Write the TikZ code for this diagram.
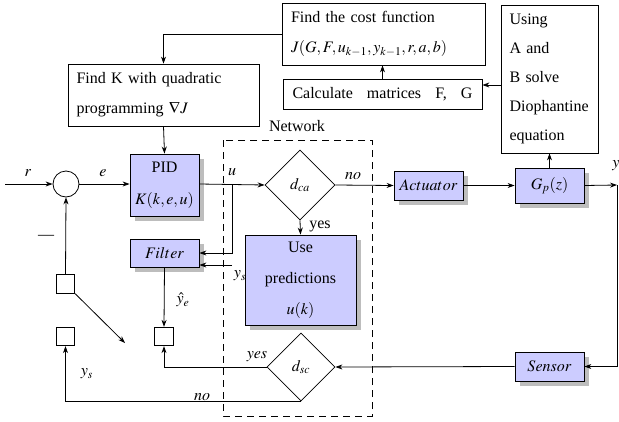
\documentclass[tikz,border=0pt]{standalone}
\usepackage{mathptmx}
\usepackage{fontspec}
\setmainfont{Liberation Serif}
\usetikzlibrary{shapes.geometric,shadows,arrows.meta}
\definecolor{blk}{HTML}{CCCCFF}
\definecolor{shd}{HTML}{BDBDBD}
\begin{document}
\begin{tikzpicture}[x=1pt,y=-1pt,line width=0.8pt,
  font=\fontsize{16}{19}\selectfont,
  arr/.style={-{Stealth[length=7pt,width=5pt]}},
  bluebox/.style={draw,fill=blk,inner sep=0pt,
    drop shadow={shadow xshift=5pt,shadow yshift=-5pt,fill=shd,opacity=1}},
  whitebox/.style={draw,fill=white,inner sep=0pt},
  decis/.style={draw,diamond,inner sep=0pt,minimum width=70pt,minimum height=70pt},
  smallsq/.style={draw,inner sep=0pt,minimum size=18.5pt},
  lbl/.style={inner sep=0pt}]
\useasboundingbox (0,0) rectangle (619,421);

% dashed network region
\draw[dash pattern=on 7pt off 5pt,line width=0.7pt] (223,140) rectangle (372,416);
\node[lbl] (net) at (297,126) {Network};

% top boxes
\node[whitebox,minimum width=203pt,minimum height=62pt,text width=185pt,align=left,
  font=\fontsize{16}{30}\selectfont] (cost) at (383.5,34)
  {\makebox[152pt][s]{Find the cost function}\\$J(G,F,u_{k-1},y_{k-1},r,a,b)$};
\node[whitebox,minimum width=199pt,minimum height=30pt] (calc) at (382.5,94)
  {\makebox[180pt][s]{Calculate matrices F, G}};
\node[whitebox,minimum width=97pt,minimum height=148pt,text width=80pt,align=left,
  font=\fontsize{16}{29}\selectfont] (dioph) at (549.5,79)
  {Using\\\makebox[42pt][s]{A and}\\\makebox[60pt][s]{B solve}\\Diophantine\\equation};
\node[whitebox,minimum width=191pt,minimum height=62pt,text width=174pt,align=left,
  font=\fontsize{16}{30}\selectfont] (findk) at (163.5,95)
  {\makebox[154pt][s]{Find K with quadratic}\\programming $\nabla J$};

% blue blocks
\node[bluebox,minimum width=69pt,minimum height=62pt,align=center,
  font=\fontsize{16}{32}\selectfont] (pid) at (164.5,185) {PID\\$K(k,e,u)$};
\node[bluebox,minimum width=69pt,minimum height=28pt] (filter) at (164.5,253) {$Filter$};
\node[bluebox,minimum width=111pt,minimum height=90pt,align=center,
  font=\fontsize{16}{31}\selectfont] (use) at (300.5,280) {Use\\predictions\\$u(k)$};
\node[bluebox,minimum width=69pt,minimum height=29pt] (act) at (428.5,185.5) {$Actuator$};
\node[bluebox,minimum width=69pt,minimum height=35pt] (gp) at (549.5,185.5) {$G_p(z)$};
\node[bluebox,minimum width=69pt,minimum height=29pt] (sensor) at (549.5,366.5) {$Sensor$};

% decisions
\node[decis] (dca) at (300,185) {$d_{ca}$};
\node[decis,minimum width=68pt,minimum height=68pt] (dsc) at (301,367) {$d_{sc}$};

% summing junction and small squares
\node[draw,circle,inner sep=0pt,minimum size=26pt] (sum) at (66,184) {};
\node[smallsq] (sq1) at (65.5,284) {};
\node[smallsq] (sq2) at (65.5,336.5) {};
\node[smallsq] (sq3) at (164,336.5) {};

% free-end coordinates
\coordinate (rin) at (5,184);
\coordinate (br) at (232,184);
\coordinate (ysin) at (232,265);
\coordinate (yout) at (617,185);
\coordinate (dc) at (501,85);
\coordinate (diagend) at (125,343);

% connectors
\draw[arr] (cost.west) -| (findk.north);
\draw[arr] (calc.north) -- (calc.north |- cost.south);
\draw[arr] (dioph.west |- dc) -- (calc.east |- dc);
\draw[arr] (gp.north) -- (dioph.south);
\draw[arr] (findk.south) -- (pid.north);
\draw[arr] (rin) -- (sum.west);
\draw[arr] (sum.east) -- (sum.east -| pid.west);
\draw[arr] (pid.east |- br) -- (dca.west);
\draw[arr] (br) |- (filter.east);
\draw[arr] (ysin) -- (ysin -| filter.east);
\draw[arr] (dca.south) -- (use.north);
\draw[arr] (dca.east) -- (act.west);
\draw[arr] (act.east) -- (gp.west);
\draw[arr] (gp.east) -- (yout);
\draw[arr] (yout) |- (sensor.east);
\draw[arr] (sensor.west) -- (dsc.east);
\draw[arr] (dsc.west) -| (sq3.south);
\draw[arr] (dsc.south) -| (sq2.south);
\draw[arr] (filter.south) -- (sq3.north);
\draw[arr] (sq1.north) -- (sum.south);
\draw[arr] (sq1.south east) -- (diagend);

% labels
\node[lbl] (lr) at (28,173) {$r$};
\node[lbl] (le) at (103,173) {$e$};
\node[lbl] (lu) at (232,172) {$u$};
\node[lbl] (lys1) at (240,276) {$y_s$};
\node[lbl] (lyes1) at (320,226) {yes};
\node[lbl] (lno1) at (353,176) {$no$};
\node[lbl] (ly) at (616,166) {$y$};
\node[lbl] (lminus) at (46,237) {---};
\node[lbl] (lyhat) at (183,300) {$\hat{y}_e$};
\node[lbl] (lyes2) at (257,357) {$yes$};
\node[lbl] (lys2) at (87,374) {$y_s$};
\node[lbl] (lno2) at (202,397) {$no$};
\end{tikzpicture}
\end{document}
